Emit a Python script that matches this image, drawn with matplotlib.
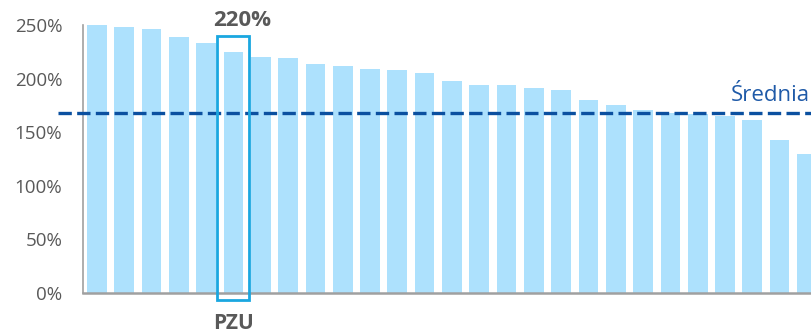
import matplotlib
matplotlib.use('Agg')
import matplotlib.pyplot as plt
from matplotlib.patches import Rectangle
from matplotlib.ticker import FuncFormatter

values = [250, 248, 246, 239, 233, 225, 220, 219, 214, 212, 209, 208, 205, 198,
          194, 194, 191, 189, 180, 175, 171, 168, 167, 165, 161, 143, 130]
average = 168
highlight_idx = 5
highlight_label = 'PZU'
highlight_text = '220%'
avg_label = 'Średnia'
yticks = [0, 50, 100, 150, 200, 250]

plt.rcParams['font.family'] = ['Open Sans', 'DejaVu Sans']

fig = plt.figure(figsize=(8.11, 3.33), dpi=100)
ax = fig.add_axes([0.1023, 0.1201, 0.8977, 0.837])

x = list(range(len(values)))
ax.bar(x, values, width=0.72, color='#ade1fd', zorder=1)

ax.set_xlim(-0.513, 26.15)
ax.set_ylim(0, 260)
ax.set_yticks(yticks)
ax.yaxis.set_major_formatter(FuncFormatter(lambda v, p: f'{v:.0f}%'))
ax.set_xticks([])
ax.tick_params(axis='y', length=0, pad=15, labelsize=13.5, labelcolor='#595959')

for s in ['top', 'right']:
    ax.spines[s].set_visible(False)
ax.spines['left'].set_color('#a0a0a0')
ax.spines['bottom'].set_color('#a0a0a0')
ax.spines['left'].set_linewidth(1.2)
ax.spines['bottom'].set_linewidth(1.8)
ax.spines['left'].set_bounds(0, 250)

# average line
ax.plot([-1.43, 26.15], [average, average], color='#0b50a0', lw=2.4,
        dashes=(4, 1.6), clip_on=False, zorder=3)
ax.text(26.1, average + 6, avg_label, color='#1f5aa8', fontsize=16,
        ha='right', va='bottom')

# highlight box
rect = Rectangle((highlight_idx - 0.6, -6.5), 1.17, 246.5, fill=False,
                 edgecolor='#1aa7e0', lw=2, clip_on=False, zorder=4)
ax.add_patch(rect)
ax.text(highlight_idx + 0.3, 254, highlight_text, color='#595959', fontsize=16,
        fontweight='bold', ha='center', va='center')
ax.text(highlight_idx, -28, highlight_label, color='#595959', fontsize=15,
        fontweight='bold', ha='center', va='center', clip_on=False)

fig.savefig('out.png', dpi=100)
